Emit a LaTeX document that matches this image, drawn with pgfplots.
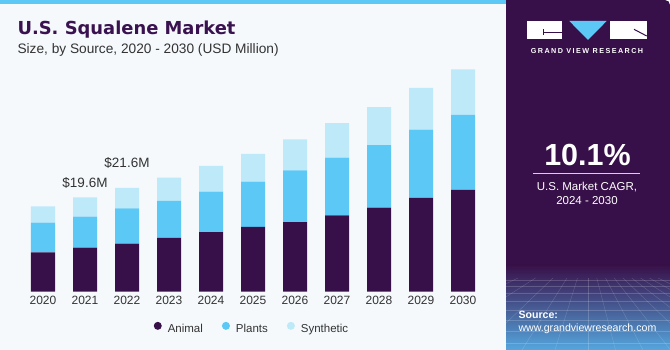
\documentclass[border=0pt]{standalone}
\usepackage{fontspec}
\setmainfont{Liberation Sans}
\newfontfamily\titlefont{DejaVu Sans}
\newfontfamily\logofont[LetterSpace=20]{Liberation Sans}
\usepackage{pgfplots}
\usepackage{pgfplotstable}
\pgfplotsset{compat=1.18}
\definecolor{bgc}{HTML}{F5F9FC}
\definecolor{stripc}{HTML}{5BC8F5}
\definecolor{panelc}{HTML}{381049}
\definecolor{animalc}{HTML}{381049}
\definecolor{plantsc}{HTML}{5BC8F5}
\definecolor{synthc}{HTML}{BEE9F9}
\definecolor{titlec}{HTML}{3A1250}
\definecolor{textc}{HTML}{333333}
\definecolor{gvblue}{HTML}{55A6DE}
\definecolor{gvmid}{HTML}{4A4C8E}

\pgfplotstableread{
x a p s
0 8.2 6.15 3.4
1 9.15 6.45 4.0
2 10.0 7.35 4.25
3 11.2 7.7 4.8
4 12.4 8.4 5.35
5 13.5 9.4 5.75
6 14.45 10.8 6.45
7 15.9 12.0 7.15
8 17.5 13.0 7.9
9 19.5 14.2 8.7
10 21.2 15.6 9.45
}\datatable

\begin{document}
\begin{tikzpicture}[x=1pt,y=1pt]
% backgrounds
\fill[bgc] (0,0) rectangle (506,350);
\fill[stripc] (0,346) rectangle (506,350);
\fill[panelc] (506,0) -- (506,350) [rounded corners=5pt] -- (670,350) [sharp corners] -- (670,0) -- cycle;
\shade[top color=panelc, middle color=gvmid, bottom color=gvblue] (506,0) rectangle (670,85);
\begin{scope}
\clip (506,0) rectangle (670,72);
\foreach \yy in {70,64,57,49,40,30,19,7}{
  \draw[white, opacity=0.18, line width=0.4pt] (506,\yy) -- (670,\yy);
}
\foreach \xx in {-200,-150,-100,-60,-30,0,25,50,75,100,125,150,175,200,240,290,350}{
  \draw[white, opacity=0.18, line width=0.4pt] (588+\xx*0.35,72) -- (588+\xx*1.1,0);
}
\end{scope}
% logo
\fill[white] (526.7,310.7) rectangle (562.3,329);
\draw[panelc, line width=1pt] (543.3,317.3) -- (562.3,317.3);
\draw[panelc, line width=1pt] (543.3,320.7) -- (543.3,315);
\fill[stripc] (569.3,329) -- (606.7,329) -- (588,310) -- cycle;
\fill[white] (610,310.7) rectangle (646.7,329);
\draw[panelc, line width=1pt] (634,320.7) -- (646.7,314);
\node[anchor=base, text=white, inner sep=0pt, font=\logofont\bfseries\fontsize{7.2}{8}\selectfont] at (587,296.5) {GRAND VIEW RESEARCH};
% CAGR
\node[anchor=base, text=white, inner sep=0pt, font=\bfseries\fontsize{30.5}{32}\selectfont] at (587.5,184.3) {10.1\%};
\draw[white!80!panelc, line width=0.9pt] (533.3,176.7) -- (640,176.7);
\node[anchor=base, text=white, inner sep=0pt, font=\fontsize{11.5}{13}\selectfont] at (587,159.3) {U.S. Market CAGR,};
\node[anchor=base, text=white, inner sep=0pt, font=\fontsize{11.5}{13}\selectfont] at (587,145) {2024 - 2030};
% source
\node[anchor=base west, text=white, inner sep=0pt, font=\bfseries\fontsize{10.6}{12}\selectfont] at (518.3,31) {Source:};
\node[anchor=base west, text=white, inner sep=0pt, font=\fontsize{10.6}{12}\selectfont] at (518.3,18.3) {www.grandviewresearch.com};
% titles
\node[anchor=base west, text=titlec, inner sep=0pt, font=\titlefont\bfseries\fontsize{17.9}{20}\selectfont] at (17.3,315) {U.S. Squalene Market};
\node[anchor=base west, text=textc, inner sep=0pt, font=\fontsize{13.7}{15}\selectfont] at (17.3,296.7) {Size, by Source, 2020 - 2030 (USD Million)};

\begin{axis}[
  at={(1pt,58.3pt)}, anchor=south west,
  scale only axis, width=504pt, height=240.4pt,
  xmin=-1, xmax=11, ymin=0, ymax=50,
  ybar stacked, bar width=24pt,
  axis line style={draw=none},
  major tick length=0pt,
  xtick={0,...,10},
  xticklabels={2020,2021,2022,2023,2024,2025,2026,2027,2028,2029,2030},
  ytick=\empty,
  xticklabel style={font=\fontsize{12}{12}\selectfont, text=textc, yshift=-1pt},
  clip=false,
  legend columns=3,
  legend style={at={(0.498,-0.155)}, anchor=center, draw=none, fill=none,
    font=\fontsize{11.5}{12}\selectfont, text=textc,
    /tikz/every even column/.append style={column sep=17pt}},
  legend image code/.code={\fill[#1] (0pt,0.33em) circle (4pt); \path (8pt,0.33em);},
]
\addplot[fill=animalc, draw=none] table[x=x, y=a] {\datatable};
\addplot[fill=plantsc, draw=none] table[x=x, y=p] {\datatable};
\addplot[fill=synthc, draw=none] table[x=x, y=s] {\datatable};
\legend{Animal, Plants, Synthetic}
\node[font=\fontsize{13.5}{14}\selectfont, text=textc] at (axis cs:1,22.67) {\$19.6M};
\node[font=\fontsize{13.5}{14}\selectfont, text=textc] at (axis cs:2,26.7) {\$21.6M};
\end{axis}
\end{tikzpicture}
\end{document}
